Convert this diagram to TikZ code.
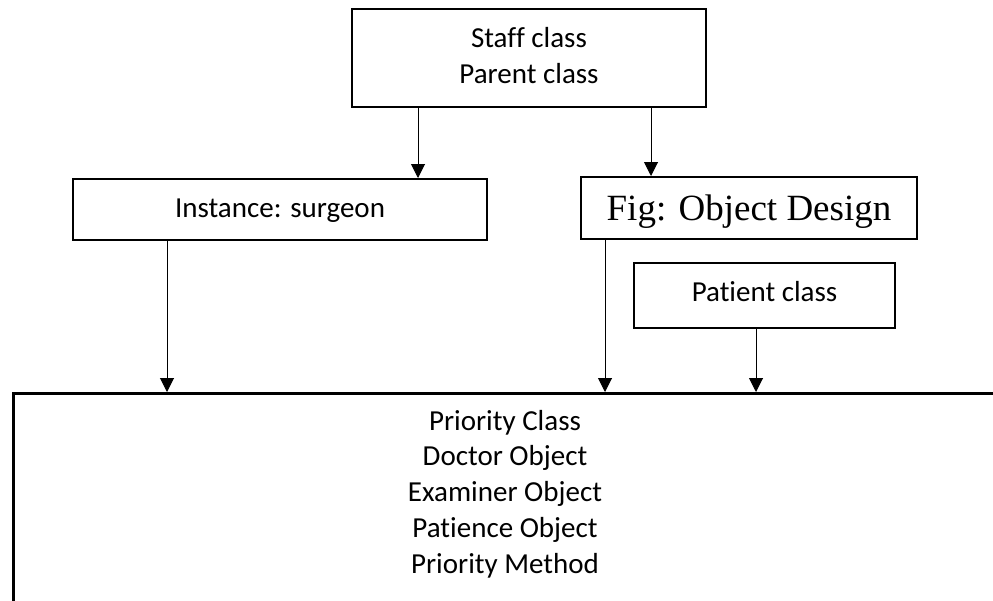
\documentclass[tikz,border=0pt]{standalone}
\usepackage{fontspec}
\setmainfont{Carlito}[Ligatures=NoCommon]
\newfontfamily\timesfont{Liberation Serif}
\usetikzlibrary{arrows.meta}

\tikzset{
  classbox/.style={draw, line width=2pt, rectangle, inner sep=0pt, align=center,
                   font=\fontsize{29}{35.75}\selectfont},
  link/.style={line width=1pt, -{Triangle[length=14pt,width=14pt]}},
}

\begin{document}
\begin{tikzpicture}[x=1pt, y=-1pt]
  % page frame: everything outside is cut off
  \clip (0,0) rectangle (993,600);

  % boxes
  \node[classbox, minimum width=354pt, minimum height=98pt,
        text height=50pt, text depth=0pt] (staff) at (529,58)
       {Staff class\\Parent class};
  \node[classbox, minimum width=414pt, minimum height=61pt,
        text height=20pt, text depth=4pt] (inst) at (280,209.5)
       {Instance: surgeon};
  \node[classbox, minimum width=336pt, minimum height=62pt, text depth=0pt,
        font=\timesfont\fontsize{37}{40}\selectfont] (fig) at (749,208)
       {Fig: Object Design};
  \node[classbox, minimum width=261pt, minimum height=65pt,
        text height=20pt, text depth=9pt] (patient) at (764.5,295.5)
       {Patient class};

  % priority box runs past the right and lower edges
  \node[classbox, line width=2.5pt, anchor=north west,
        minimum width=1000pt, minimum height=260pt] (prio) at (12,392) {};
  \node[align=center, font=\fontsize{29}{35.75}\selectfont, anchor=base]
       (priotext) at (505,573)
       {Priority Class\\Doctor Object\\Examiner Object\\Patience Object\\Priority Method};

  % free starting point of the left link, level with the staff box bottom
  \coordinate (staffleft) at (418,107);

  % connectors
  \draw[link] (staffleft) -- (staffleft |- inst.north);
  \draw[link] (staff.south -| 651,0) -- (651,0 |- fig.north);
  \draw[link] (inst.south -| 167,0) -- (167,0 |- prio.north);
  \draw[link] (fig.south -| 605,0) -- (605,0 |- prio.north);
  \draw[link] (patient.south -| 756,0) -- (756,0 |- prio.north);
\end{tikzpicture}
\end{document}
